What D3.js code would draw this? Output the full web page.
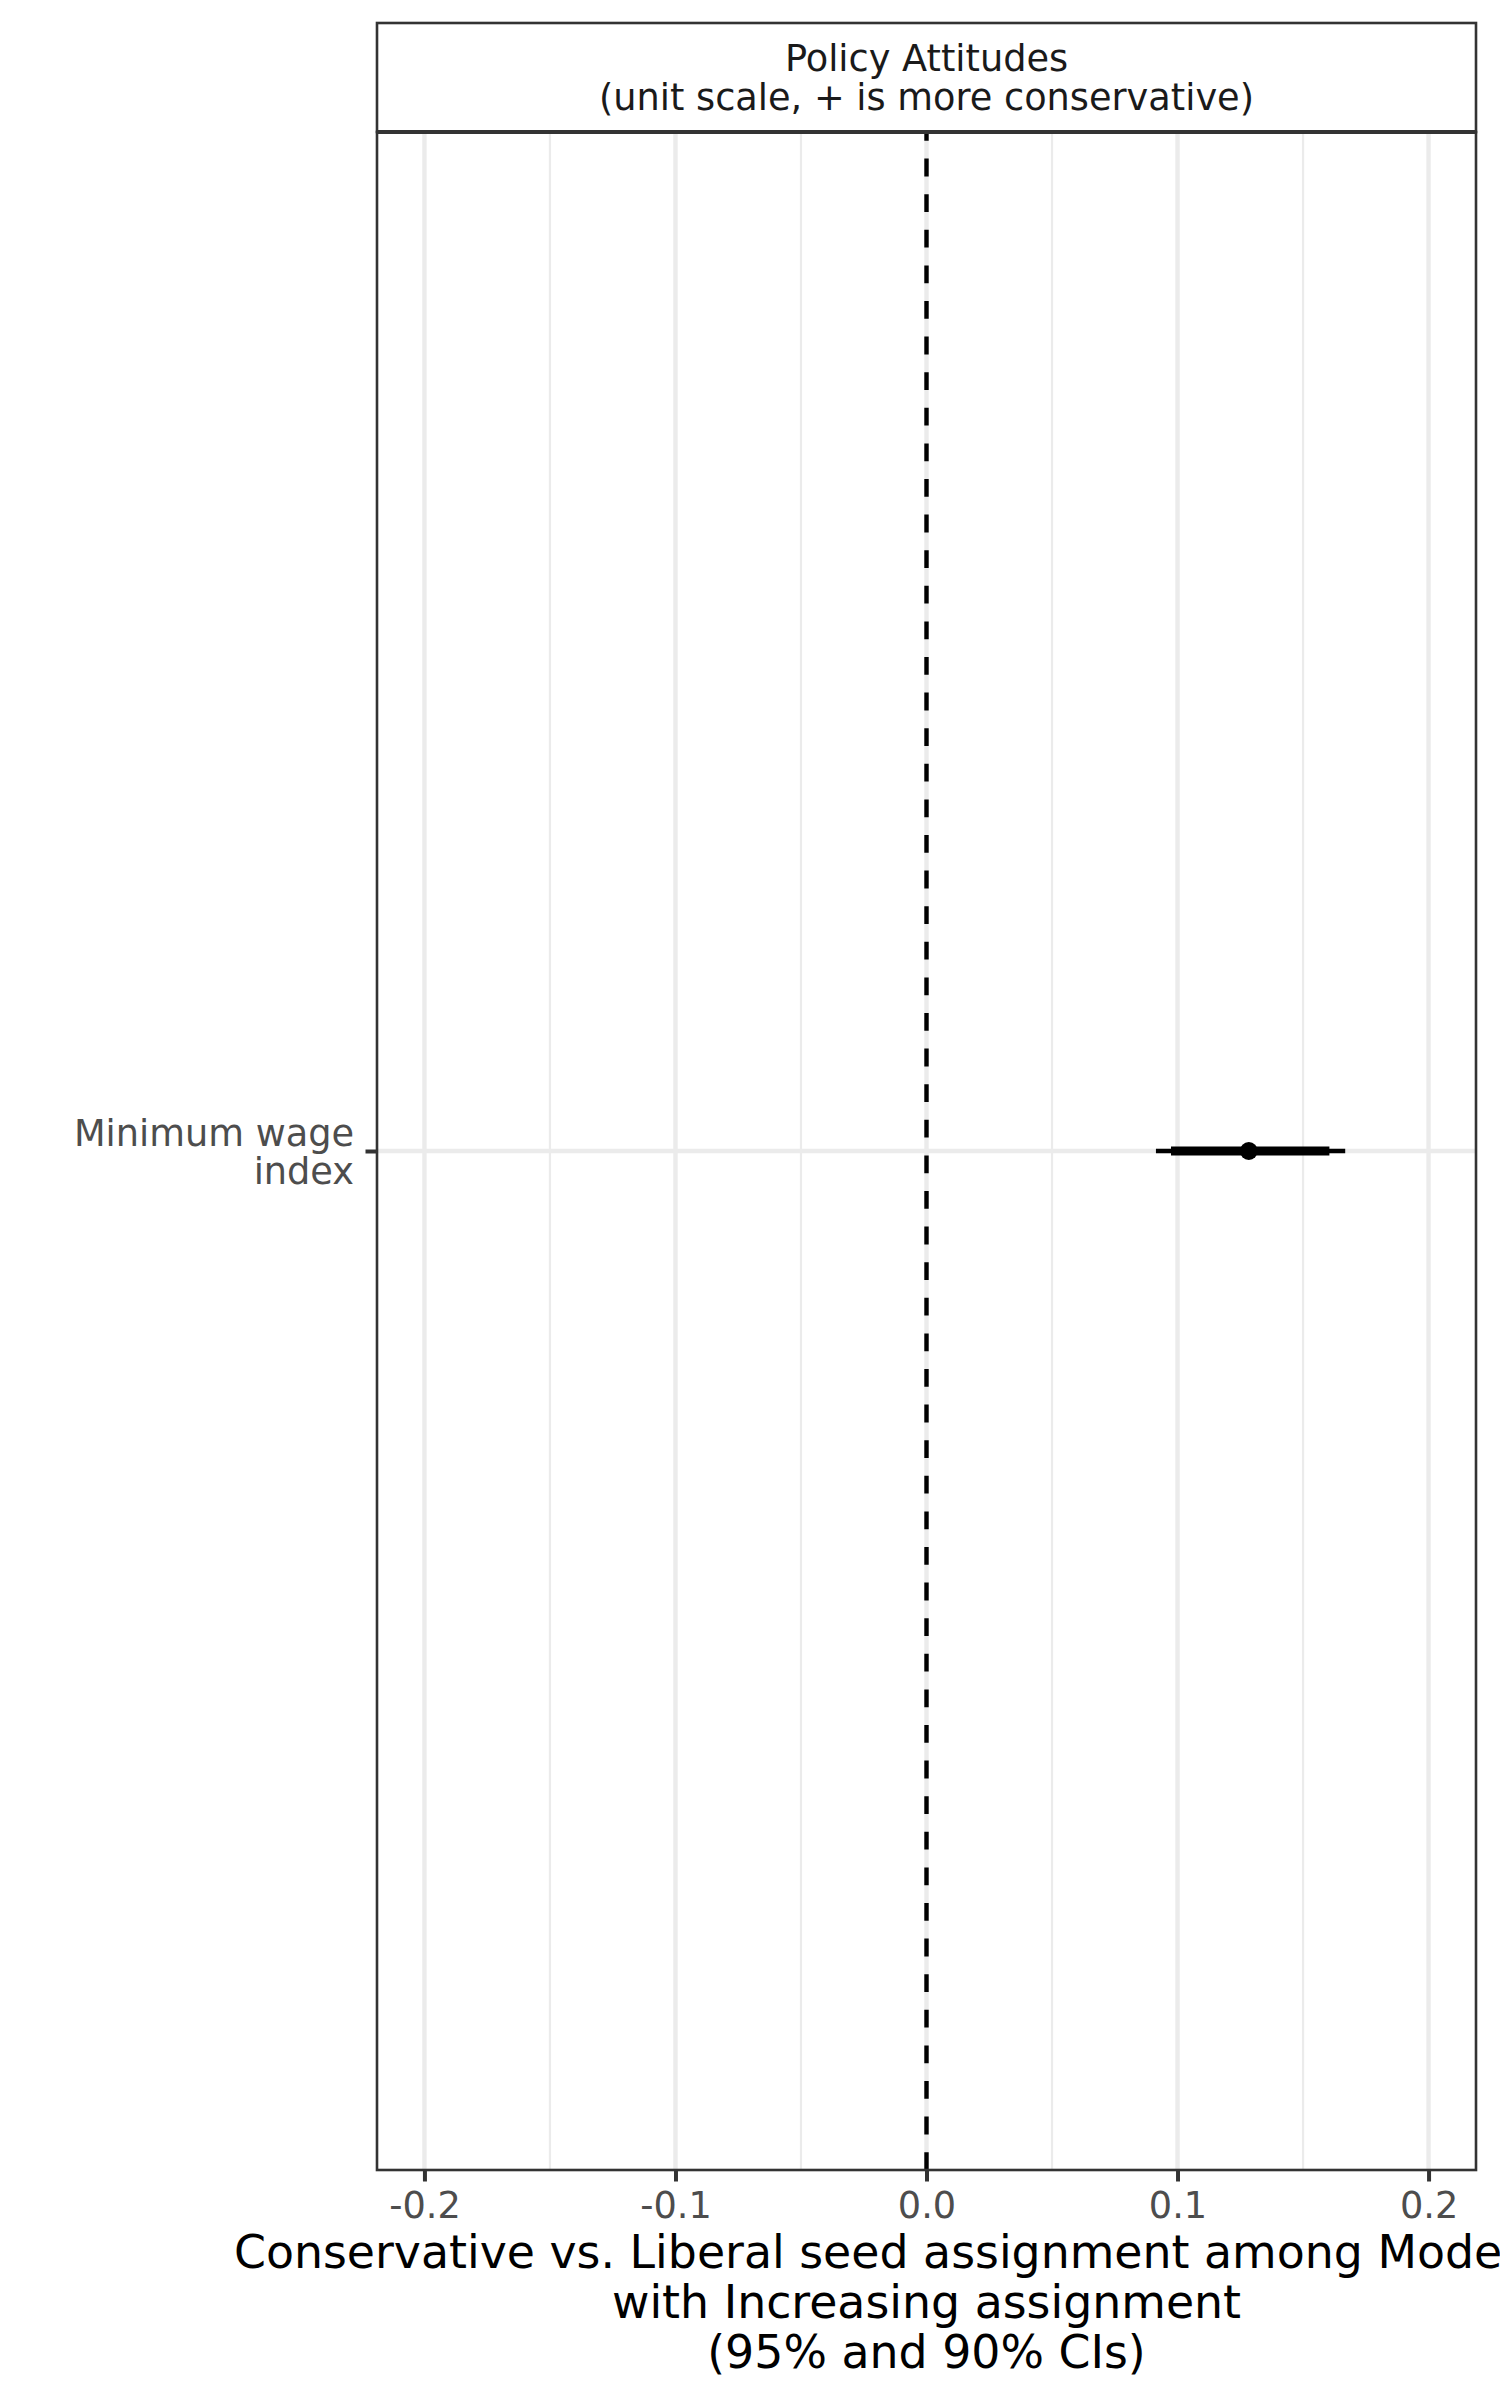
<!DOCTYPE html>
<html>
<head>
<meta charset="utf-8">
<script src="https://cdn.jsdelivr.net/npm/d3@7"></script>
<style>
  html, body { margin: 0; padding: 0; background: #ffffff; }
  svg { display: block; }
  text { font-family: "DejaVu Sans", sans-serif; }
</style>
</head>
<body>
<script>
// ---- data ----
const categories = ["Minimum wage\nindex"];
const estimates = [0.1284];
const ci95Low = [0.0914];
const ci95High = [0.1668];
const ci90Low = [0.0974];
const ci90High = [0.1605];
const xMajorTicks = [-0.2, -0.1, 0.0, 0.1, 0.2];
const xTickLabels = ["-0.2", "-0.1", "0.0", "0.1", "0.2"];
const xMinorTicks = [-0.15, -0.05, 0.05, 0.15];
const stripLines = ["Policy Attitudes", "(unit scale, + is more conservative)"];
const xTitleLines = [
  "Conservative vs. Liberal seed assignment among Moderates",
  "with Increasing assignment",
  "(95% and 90% CIs)"
];
const xDomain = [-0.2189, 0.2189];
const refValue = 0;

// ---- layout ----
const W = 1500, H = 2400;
const panel = { left: 377, right: 1476, top: 132, bottom: 2170 };
const strip = { top: 23, bottom: 132 };

const svg = d3.select("body").append("svg")
  .attr("width", W).attr("height", H);

svg.append("rect").attr("width", W).attr("height", H).attr("fill", "#ffffff");

const x = d3.scaleLinear().domain(xDomain).range([panel.left, panel.right]);
const y = d3.scalePoint().domain(categories).range([panel.top, panel.bottom]).padding(0.5);

const data = categories.map((c, i) => ({
  cat: c, est: estimates[i],
  l95: ci95Low[i], h95: ci95High[i],
  l90: ci90Low[i], h90: ci90High[i]
}));

// panel background
svg.append("rect")
  .attr("x", panel.left).attr("y", panel.top)
  .attr("width", panel.right - panel.left).attr("height", panel.bottom - panel.top)
  .attr("fill", "#ffffff");

// grid
const grid = svg.append("g");
grid.selectAll("line.minor").data(xMinorTicks).join("line")
  .attr("class", "minor")
  .attr("x1", d => x(d)).attr("x2", d => x(d))
  .attr("y1", panel.top).attr("y2", panel.bottom)
  .attr("stroke", "#ebebeb").attr("stroke-width", 2.2);
grid.selectAll("line.majorx").data(xMajorTicks).join("line")
  .attr("class", "majorx")
  .attr("x1", d => x(d)).attr("x2", d => x(d))
  .attr("y1", panel.top).attr("y2", panel.bottom)
  .attr("stroke", "#ebebeb").attr("stroke-width", 4.4);
grid.selectAll("line.majory").data(categories).join("line")
  .attr("class", "majory")
  .attr("x1", panel.left).attr("x2", panel.right)
  .attr("y1", d => y(d)).attr("y2", d => y(d))
  .attr("stroke", "#ebebeb").attr("stroke-width", 4.4);

// reference dashed line (drawn bottom to top)
svg.append("line")
  .attr("x1", x(refValue)).attr("x2", x(refValue))
  .attr("y1", panel.bottom).attr("y2", panel.top)
  .attr("stroke", "#000000").attr("stroke-width", 4.4)
  .attr("stroke-dasharray", "17.8,17.8");

// intervals and points
const marks = svg.append("g");
marks.selectAll("line.ci95").data(data).join("line")
  .attr("class", "ci95")
  .attr("x1", d => x(d.l95)).attr("x2", d => x(d.h95))
  .attr("y1", d => y(d.cat)).attr("y2", d => y(d.cat))
  .attr("stroke", "#000000").attr("stroke-width", 4.4);
marks.selectAll("line.ci90").data(data).join("line")
  .attr("class", "ci90")
  .attr("x1", d => x(d.l90)).attr("x2", d => x(d.h90))
  .attr("y1", d => y(d.cat)).attr("y2", d => y(d.cat))
  .attr("stroke", "#000000").attr("stroke-width", 9);
marks.selectAll("circle").data(data).join("circle")
  .attr("cx", d => x(d.est)).attr("cy", d => y(d.cat))
  .attr("r", 9).attr("fill", "#000000");

// panel border
svg.append("rect")
  .attr("x", panel.left).attr("y", panel.top)
  .attr("width", panel.right - panel.left).attr("height", panel.bottom - panel.top)
  .attr("fill", "none").attr("stroke", "#333333").attr("stroke-width", 2.6);

// strip
svg.append("rect")
  .attr("x", panel.left).attr("y", strip.top)
  .attr("width", panel.right - panel.left).attr("height", strip.bottom - strip.top)
  .attr("fill", "#ffffff").attr("stroke", "#333333").attr("stroke-width", 2.6);
svg.append("line")
  .attr("x1", panel.left).attr("x2", panel.right)
  .attr("y1", strip.bottom).attr("y2", strip.bottom)
  .attr("stroke", "#333333").attr("stroke-width", 4.2);
const stripText = svg.append("text")
  .attr("text-anchor", "middle")
  .attr("font-size", 36.7).attr("fill", "#1a1a1a");
stripLines.forEach((t, i) => {
  stripText.append("tspan")
    .attr("x", (panel.left + panel.right) / 2)
    .attr("y", 71 + i * 38.5)
    .text(t);
});

// x axis
const xAxis = d3.axisBottom(x)
  .tickValues(xMajorTicks)
  .tickFormat((d, i) => xTickLabels[i])
  .tickSize(11.5).tickPadding(9);
const gx = svg.append("g").attr("transform", `translate(0,${panel.bottom})`).call(xAxis);
gx.select(".domain").remove();
gx.selectAll(".tick line").attr("stroke", "#333333").attr("stroke-width", 4);
gx.selectAll(".tick text")
  .attr("font-family", "DejaVu Sans, sans-serif")
  .attr("font-size", 36.7).attr("fill", "#4d4d4d")
  .attr("dy", null).attr("y", 48);

// y axis
const yAxis = d3.axisLeft(y).tickSize(11.5).tickPadding(11).tickFormat("");
const gy = svg.append("g").attr("transform", `translate(${panel.left},0)`).call(yAxis);
gy.select(".domain").remove();
gy.selectAll(".tick line").attr("stroke", "#333333").attr("stroke-width", 4);
gy.selectAll(".tick").each(function(d) {
  const lines = d.split("\n");
  const t = d3.select(this).append("text")
    .attr("text-anchor", "end")
    .attr("font-family", "DejaVu Sans, sans-serif")
    .attr("font-size", 36.7).attr("fill", "#4d4d4d");
  lines.forEach((ln, i) => {
    t.append("tspan").attr("x", -23).attr("y", -6 + i * 38).text(ln);
  });
});

// x title
const xTitle = svg.append("text")
  .attr("text-anchor", "middle")
  .attr("font-size", 45.8).attr("fill", "#000000");
xTitleLines.forEach((t, i) => {
  xTitle.append("tspan")
    .attr("x", (panel.left + panel.right) / 2)
    .attr("y", 2268 + i * 50)
    .text(t);
});
</script>
</body>
</html>
